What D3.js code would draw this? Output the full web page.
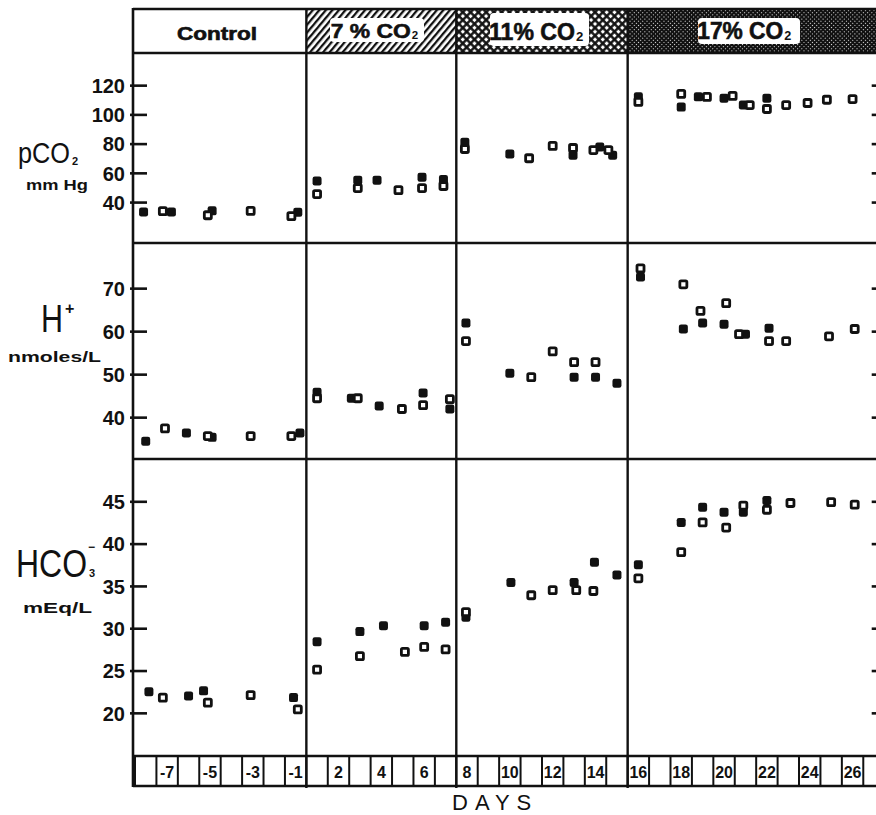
<!DOCTYPE html>
<html><head><meta charset="utf-8">
<script src="https://cdn.jsdelivr.net/npm/d3@7"></script>
<style>html,body{margin:0;padding:0;background:#fff;} svg{display:block;}</style>
</head><body><svg id="c" width="876" height="815"></svg>
<script>
// ---------- data ----------
const boxDays = d3.range(-8, 0).concat(d3.range(1, 28));
const dayTickLabels = [-7, -5, -3, -1, 2, 4, 6, 8, 10, 12, 14, 16, 18, 20, 22, 24, 26];
const phaseNames = ["Control", "7 % CO", "11% CO", "17% CO"];
const phaseSubs = ["", "2", "2", "2"];
const phaseFirstDay = [-8, 1, 8, 16];
const phaseLastDay = [-1, 7, 15, 27];

const pco2Ticks = [40, 60, 80, 100, 120];
const hplusTicks = [40, 50, 60, 70];
const hco3Ticks = [20, 25, 30, 35, 40, 45];

// [day, value]
const pco2Filled = [[-8.1,33.2],[-6.8,33.2],[-4.9,34],[-0.9,33],
  [1.0,54.4],[2.9,55],[3.8,55],[5.9,57],[6.9,55.5],
  [7.9,81],[10.0,72.9],[12.95,72],[14.2,77.7],[14.8,72],
  [16.0,112],[18.0,105],[18.8,112],[20.0,111],[20.9,106.4],[22.0,111]];
const pco2Open = [[-7.2,33.8],[-5.1,31],[-3.1,34],[-1.2,30.4],
  [1.0,45.5],[2.9,49.6],[4.8,48.2],[5.9,49.6],[6.9,51],
  [7.9,76.3],[10.9,70],[12.0,78.4],[12.95,77],[13.9,75.6],[14.6,75.6],
  [16.0,108.5],[18.0,114],[19.2,112],[20.4,112.6],[21.2,106.4],[22.0,103.7],[22.9,106.4],[23.9,107.8],[24.8,110],[26.0,110.5]];

const hplusFilled = [[-8.0,34.4],[-6.1,36.3],[-4.9,35.3],[-0.8,36.3],
  [1.0,45.8],[2.6,44.4],[3.9,42.6],[5.95,45.6],[7.2,41.9],
  [7.95,61.9],[10.0,50.2],[13.0,49.3],[14.0,49.3],[15.0,47.9],
  [16.1,72.6],[18.1,60.5],[19.0,61.9],[20.0,61.6],[21.0,59.3],[22.1,60.7]];
const hplusOpen = [[-7.1,37.4],[-5.1,35.6],[-3.1,35.6],[-1.2,35.6],
  [1.0,44.4],[2.9,44.4],[4.96,41.9],[5.95,42.8],[7.2,44.2],
  [7.95,57.7],[11.0,49.3],[12.0,55.3],[13.0,52.8],[14.0,52.8],
  [16.1,74.6],[18.1,70.9],[18.9,64.7],[20.1,66.5],[20.7,59.3],[22.1,57.7],[22.9,57.7],[24.9,58.8],[26.1,60.5]];

const hco3Filled = [[-7.85,22.5],[-6.0,22],[-5.3,22.6],[-1.1,21.8],
  [1.0,28.4],[3.0,29.6],[4.1,30.3],[6.0,30.3],[7.0,30.7],
  [7.95,31.3],[10.05,35.4],[13.0,35.4],[13.95,37.8],[15.0,36.3],
  [16.0,37.5],[18.0,42.5],[19.0,44.3],[20.0,43.7],[20.9,43.7],[22.0,45.1]];
const hco3Open = [[-7.2,21.8],[-5.1,21.2],[-3.1,22.1],[-0.9,20.4],
  [1.0,25.1],[3.0,26.7],[5.1,27.2],[6.0,27.8],[7.0,27.5],
  [7.95,31.9],[11.0,33.9],[12.0,34.5],[13.1,34.5],[13.9,34.4],
  [16.0,35.9],[18.0,39],[19.0,42.5],[20.1,41.9],[20.9,44.5],[22.0,44],[23.1,44.8],[25.0,44.9],[26.1,44.6]];

// ---------- layout ----------
const INK = "#111";
const svg = d3.select("#c");
const defs = svg.append("defs");

const idx = d => d < 0 ? d + 8 : d + 7;
const x = d3.scaleLinear().domain([0, 35]).range([135, 884.7]);
const xd = d => x(idx(d) + 0.5);
const LEFT = 133, RIGHT = x(35);
const HEAD_TOP = 9, HEAD_BOT = 53, BOX_TOP = 756, BOX_BOT = 786;

const panels = [
  {domain:[12,142], range:[243,53], ticks:pco2Ticks, filled:pco2Filled, open:pco2Open},
  {domain:[30.5,80.5], range:[458,243], ticks:hplusTicks, filled:hplusFilled, open:hplusOpen},
  {domain:[14.9,50], range:[756,459], ticks:hco3Ticks, filled:hco3Filled, open:hco3Open}
];

// patterns
const p1 = defs.append("pattern").attr("id","hatch").attr("patternUnits","userSpaceOnUse")
  .attr("width",5).attr("height",10).attr("patternTransform","rotate(40)");
p1.append("rect").attr("width",5).attr("height",10).attr("fill","#fff");
p1.append("rect").attr("width",2.3).attr("height",10).attr("fill",INK);

const p2 = defs.append("pattern").attr("id","cross").attr("patternUnits","userSpaceOnUse")
  .attr("width",5.5).attr("height",5.5).attr("patternTransform","rotate(45)");
p2.append("rect").attr("width",5.5).attr("height",5.5).attr("fill",INK);
p2.append("rect").attr("x",1.6).attr("y",1.6).attr("width",3.1).attr("height",3.1).attr("fill","#fff");

const p3 = defs.append("pattern").attr("id","stipple").attr("patternUnits","userSpaceOnUse")
  .attr("width",3).attr("height",3).attr("patternTransform","rotate(45)");
p3.append("rect").attr("width",3).attr("height",3).attr("fill",INK);
p3.append("rect").attr("x",1).attr("y",1).attr("width",1).attr("height",1).attr("fill","#e4e4e4");

const fills = ["#fff","url(#hatch)","url(#cross)","url(#stipple)"];

const NARROW = "Liberation Sans Narrow, Liberation Sans, Arial, sans-serif";
const SANS = "Liberation Sans, Arial, sans-serif";

// header
const head = svg.append("g");
phaseNames.forEach((n, i) => {
  const x0 = x(idx(phaseFirstDay[i])), x1 = x(idx(phaseLastDay[i]) + 1);
  head.append("rect").attr("x", x0).attr("y", HEAD_TOP).attr("width", x1 - x0)
    .attr("height", HEAD_BOT - HEAD_TOP).attr("fill", fills[i]);
});
const headLabels = [
  {cx:217, base:40, size:18, len:80, bg:null},
  {cx:376, base:38, size:21, len:80, bg:[330,18,94,24]},
  {cx:538, base:40, size:24, len:86, bg:[490,13,99,33]},
  {cx:746, base:39, size:23, len:86, bg:[698,18,102,26]}
];
headLabels.forEach((h, i) => {
  if (h.bg) head.append("rect").attr("x",h.bg[0]).attr("y",h.bg[1]).attr("width",h.bg[2]).attr("height",h.bg[3])
    .attr("rx",4).attr("fill","#fff");
  const subW = phaseSubs[i] ? h.size*0.5 : 0;
  const tx = h.cx - (h.len + subW)/2;
  const t = head.append("text").attr("x", tx).attr("y", h.base)
    .attr("font-family", SANS).attr("font-weight","bold").attr("fill", INK);
  t.append("tspan").attr("font-size", h.size).attr("textLength", h.len).attr("lengthAdjust","spacingAndGlyphs")
    .attr("stroke", INK).attr("stroke-width", 0.6).text(phaseNames[i]);
  if (phaseSubs[i]) t.append("tspan").attr("x", tx + h.len + 1).attr("y", h.base + 1)
    .attr("font-size", h.size*0.55).text(phaseSubs[i]);
});

// panels
panels.forEach(p => {
  const y = d3.scaleLinear().domain(p.domain).range(p.range);
  const ax = svg.append("g").attr("transform", `translate(${LEFT},0)`)
    .call(d3.axisLeft(y).tickValues(p.ticks).tickSizeInner(-14).tickSizeOuter(0).tickPadding(8));
  ax.select(".domain").remove();
  ax.selectAll(".tick line").attr("x1", -3).attr("stroke", INK).attr("stroke-width", 2.6);
  ax.selectAll(".tick text").attr("font-family", SANS)
    .attr("font-weight","bold").attr("font-size",20).attr("fill",INK).attr("dy","0.36em");
  const axr = svg.append("g").attr("transform", `translate(${RIGHT},0)`)
    .call(d3.axisRight(y).tickValues(p.ticks).tickSizeInner(-13).tickSizeOuter(0).tickFormat(""));
  axr.select(".domain").remove();
  axr.selectAll(".tick line").attr("stroke", INK).attr("stroke-width", 2.6);

  const g = svg.append("g");
  g.selectAll("rect.f").data(p.filled).join("rect").attr("class","f")
    .attr("x", d => xd(d[0]) - 4.5).attr("y", d => y(d[1]) - 4.5)
    .attr("width", 9).attr("height", 9).attr("rx", 2.2).attr("fill", INK);
  g.selectAll("rect.o").data(p.open).join("rect").attr("class","o")
    .attr("x", d => xd(d[0]) - 3.5).attr("y", d => y(d[1]) - 3.5)
    .attr("width", 7).attr("height", 7).attr("rx", 1.2).attr("fill", "#fff")
    .attr("stroke", INK).attr("stroke-width", 2.8);
});

// frame lines
const fr = svg.append("g").attr("stroke", INK).attr("fill", "none");
[HEAD_TOP, HEAD_BOT, 243, 459, BOX_TOP, BOX_BOT].forEach(yy =>
  fr.append("line").attr("x1", LEFT).attr("x2", 900).attr("y1", yy).attr("y2", yy).attr("stroke-width", 2.6));
fr.append("line").attr("x1", LEFT).attr("x2", LEFT).attr("y1", HEAD_TOP - 1).attr("y2", BOX_BOT + 1).attr("stroke-width", 2.6);
[1, 8, 16].forEach(d =>
  fr.append("line").attr("x1", x(idx(d))).attr("x2", x(idx(d))).attr("y1", HEAD_TOP).attr("y2", BOX_BOT + 2).attr("stroke-width", 2.4));

// day boxes
const bx = svg.append("g");
bx.selectAll("line").data(boxDays).join("line")
  .attr("x1", d => x(idx(d))).attr("x2", d => x(idx(d)))
  .attr("y1", BOX_TOP).attr("y2", BOX_BOT).attr("stroke", INK).attr("stroke-width", 2);
bx.selectAll("text").data(dayTickLabels).join("text")
  .attr("x", d => x(idx(d) + 0.5)).attr("y", 778).attr("text-anchor","middle")
  .attr("font-family", SANS).attr("font-weight","bold")
  .attr("font-size", 16).attr("fill", INK).text(d => String(d));
svg.append("text").attr("x", 452).attr("y", 810).attr("font-family", SANS)
  .attr("font-size", 22).attr("letter-spacing", 7).attr("fill", INK).text("DAYS");

// axis titles (single text elements with explicitly placed sub/superscript tspans)
function title(xx, yy, main, size, len, extras) {
  const t = svg.append("text").attr("x", xx).attr("y", yy).attr("fill", INK).attr("font-family", NARROW);
  t.append("tspan").attr("font-size", size).attr("textLength", len).attr("lengthAdjust", "spacingAndGlyphs").text(main);
  extras.forEach(e => {
    t.append("tspan").attr("font-family", SANS).attr("font-weight", "bold")
      .attr("font-size", e.size).attr("x", e.x).attr("y", e.y).text(e.text);
  });
}
title(18, 163, "pCO", 29, 52, [{text:"2", size:11, x:72, y:165}]);
title(41, 332, "H", 38, 22, [{text:"+", size:16, x:65, y:314}]);
title(16, 577, "HCO", 38, 71, [{text:"3", size:11, x:89, y:577}, {text:"−", size:12, x:88, y:551}]);
const label = (t, xx, yy, len, size) => svg.append("text").attr("x", xx).attr("y", yy).attr("font-size", size)
  .attr("font-family", SANS).attr("font-weight", "bold").attr("fill", INK)
  .attr("textLength", len).attr("lengthAdjust", "spacingAndGlyphs").text(t);
label("mm Hg", 26, 190, 62, 14);
label("nmoles/L", 8, 362, 93, 15);
label("mEq/L", 23, 613, 69, 15);
</script>
</body></html>
